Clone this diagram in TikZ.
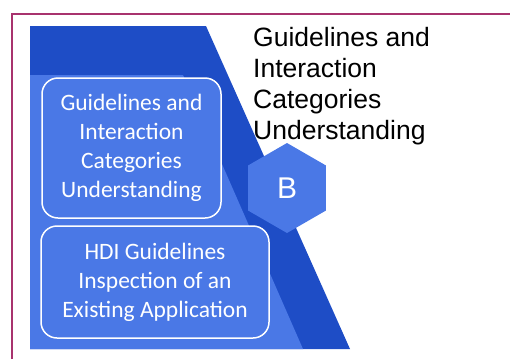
\documentclass[tikz,border=0pt]{standalone}
\usepackage{fontspec}
\setmainfont{Liberation Sans}
\newfontfamily\boxfont{Carlito}
\usetikzlibrary{shapes.geometric,positioning}

\definecolor{deepblue}{HTML}{1E4DC6}
\definecolor{softblue}{HTML}{4A78E6}
\definecolor{framepink}{HTML}{A8326E}

\begin{document}
\begin{tikzpicture}[
        x=1pt,
        y=-1pt,
        card/.style={draw=white, line width=1.5pt, rounded corners=16pt, fill=softblue,
            text=white, align=center, inner sep=0pt, font=\boxfont\fontsize{23.5}{29}\selectfont},
        hexa/.style={regular polygon, regular polygon sides=6, shape border rotate=30,
            fill=softblue, minimum size=90pt, inner sep=0pt, text=white,
            font=\fontsize{30}{34}\selectfont}
    ]
        \useasboundingbox (0,0) rectangle (510,359);
        % frame
        \draw[framepink, line width=1.1pt] (12,359) -- (12,14) -- (510,14);
        % slanted panels
        \fill[deepblue] (30,26) -- (206,26) -- (350,349) -- (30,349) -- cycle;
        \fill[softblue] (30,75) -- (183,75) -- (303,349) -- (30,349) -- cycle;
        % cards
        \node[card, minimum width=179pt, minimum height=140pt] (guide) at (131.5,148)
            {Guidelines and\\Interaction\\Categories\\Understanding};
        \node[card, minimum width=228pt, minimum height=112pt] (inspect) at (155,282)
            {HDI Guidelines\\Inspection of an\\Existing Application};
        \node[hexa] (stepB) at (287,188) {B};
        \node[anchor=north west, align=left, inner sep=0pt,
            font=\fontsize{26.5}{31}\selectfont] (title) at (253,27)
            {Guidelines and\\Interaction\\Categories\\Understanding};
    \end{tikzpicture}
\end{document}
